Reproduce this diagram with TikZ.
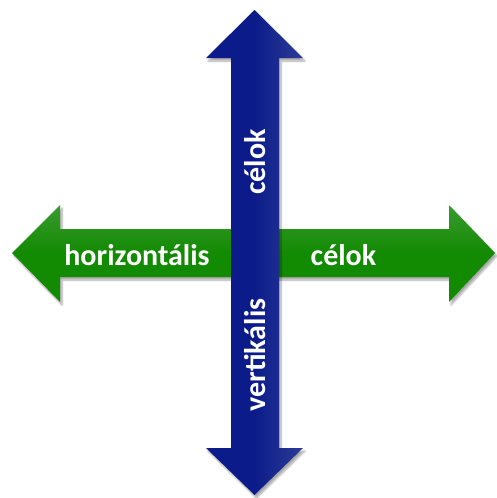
\documentclass[tikz,border=0pt]{standalone}
\usepackage{fontspec}
\setmainfont{Carlito}
\usetikzlibrary{shadows.blur}
\definecolor{gdark}{HTML}{128A02}
\definecolor{glight}{HTML}{3A9A30}
\definecolor{bdark}{HTML}{0B1C8A}
\definecolor{blight}{HTML}{2C3C96}
\tikzset{
  arrowshape/.style={blur shadow={shadow xshift=2pt,shadow yshift=-3pt,shadow blur steps=8,shadow opacity=35,shadow blur extra rounding=0pt}},
  lbl/.style={text=white,font=\fontsize{30}{33}\selectfont\bfseries,inner sep=0pt,anchor=base}
}
\begin{document}
\begin{tikzpicture}[x=1pt,y=-1pt]
\useasboundingbox (0,0) rectangle (496,498);
% green horizontal double arrow
\path[arrowshape,top color=glight,bottom color=gdark,middle color=gdark]
  (12,253) -- (60,205) -- (60,229) -- (449,229) -- (449,205) -- (495,253)
  -- (449,302) -- (449,277) -- (60,277) -- (60,302) -- cycle;
% blue vertical double arrow
\path[arrowshape,left color=bdark,right color=blight,middle color=bdark]
  (254.5,10) -- (303,58) -- (279,58) -- (279,448) -- (303,448) -- (254.5,495)
  -- (206,448) -- (231,448) -- (231,58) -- (206,58) -- cycle;
\node[lbl] (h) at (137,265) {horizontális};
\node[lbl] (hc) at (343.5,265) {célok};
\node[lbl,rotate=90] (vc) at (265,162) {célok};
\node[lbl,rotate=90] (v) at (265,355) {vertikális};
\end{tikzpicture}
\end{document}
